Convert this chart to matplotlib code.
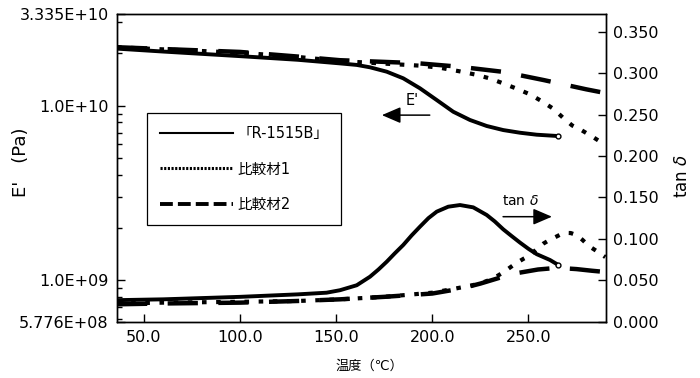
import matplotlib
matplotlib.use("Agg")
import matplotlib.pyplot as plt
from matplotlib.lines import Line2D
from matplotlib.ticker import FixedLocator, FixedFormatter, LogLocator, NullFormatter

plt.rcParams['font.family'] = ['DejaVu Sans', 'Noto Sans CJK JP']
plt.rcParams['font.size'] = 11.5

# ---------------- data ----------------
series_names = ["「R-1515B」", "比較材1", "比較材2"]

# Storage modulus E' (Pa)
t_E_r = [36, 60, 100, 130, 152, 160.7, 167.6, 176.3, 184.9, 193.6, 202.3, 210.9, 219.6, 228.3,
         236.9, 245.6, 254.3, 265.6]
E_r = [2.12e10, 2.04e10, 1.92e10, 1.83e10, 1.745e10, 1.71e10, 1.657e10, 1.564e10, 1.433e10,
       1.256e10, 1.076e10, 9.22e9, 8.27e9, 7.64e9, 7.24e9, 6.99e9, 6.81e9, 6.69e9]

t_E_1 = [36, 60, 100, 130, 152, 175, 195, 205, 214.4, 223.1, 230, 236.9, 243.9, 250.8, 256.9,
         262.9, 268.1, 272.7, 277.9, 283.6, 290]
E_1 = [2.16e10, 2.10e10, 2.01e10, 1.90e10, 1.80e10, 1.74e10, 1.69e10, 1.64e10, 1.57e10, 1.50e10,
       1.43e10, 1.34e10, 1.25e10, 1.16e10, 1.06e10, 9.6e9, 8.5e9, 7.7e9, 7.2e9, 6.6e9, 5.95e9]

t_E_2 = [36, 60, 100, 130, 152, 175, 192, 214, 237, 258, 280, 290]
E_2 = [2.16e10, 2.11e10, 2.03e10, 1.91e10, 1.82e10, 1.78e10, 1.75e10, 1.67e10, 1.56e10, 1.40e10,
       1.24e10, 1.18e10]

# tan delta
t_tan_r = [36, 60, 100, 130, 145, 152, 160.7, 167.6, 172, 176.3, 180.5, 184.9, 189.2, 193.6, 198,
           202.3, 208.3, 214.4, 221.3, 228.3, 232.5, 236.9, 241.2, 245.6, 250, 254.3, 261.2, 265.6]
tan_r = [0.026, 0.027, 0.030, 0.033, 0.035, 0.038, 0.044, 0.0543, 0.063, 0.0724, 0.0825, 0.0926,
         0.104, 0.1147, 0.125, 0.1328, 0.1388, 0.1408, 0.138, 0.1288, 0.121, 0.1115, 0.1035,
         0.0955, 0.088, 0.0815, 0.0745, 0.0684]

t_tan_1 = [36, 60, 100, 130, 152, 175, 200, 212, 221, 227, 230.5, 233.7, 236.5, 239, 242, 244.6,
           247.5, 250.8, 254, 257.6, 260.5, 263.5, 266.5, 269, 272, 275, 278, 280, 283, 286, 290]
tan_1 = [0.022, 0.023, 0.024, 0.025, 0.027, 0.030, 0.035, 0.040, 0.044, 0.048, 0.051, 0.055, 0.059,
         0.063, 0.068, 0.072, 0.076, 0.080, 0.087, 0.094, 0.098, 0.1015, 0.105, 0.1072, 0.107,
         0.1046, 0.099, 0.0946, 0.089, 0.0845, 0.078]

t_tan_2 = [36, 60, 100, 130, 152, 175, 200, 215, 225, 235, 245, 255, 265, 275, 283, 290]
tan_2 = [0.021, 0.022, 0.023, 0.025, 0.027, 0.030, 0.034, 0.040, 0.046, 0.053, 0.059, 0.063, 0.065,
         0.0635, 0.0615, 0.060]

x_ticks = [50, 100, 150, 200, 250]
x_ticklabels = ["50.0", "100.0", "150.0", "200.0", "250.0"]
E_ticks = [5.776e8, 1.0e9, 1.0e10, 3.335e10]
E_ticklabels = ["5.776E+08", "1.0E+09", "1.0E+10", "3.335E+10"]
tan_ticks = [0.0, 0.05, 0.10, 0.15, 0.20, 0.25, 0.30, 0.35]
tan_ticklabels = ["0.000", "0.050", "0.100", "0.150", "0.200", "0.250", "0.300", "0.350"]

# ---------------- figure ----------------
W, H = 700, 378
fig = plt.figure(figsize=(W / 100, H / 100), dpi=100)
L, R, T, B = 117, 605.7, 14.3, 321.7
ax = fig.add_axes([L / W, 1 - B / H, (R - L) / W, (B - T) / H])
ax2 = ax.twinx()

solid_kw = dict(color='black', lw=2.8, solid_capstyle='butt', solid_joinstyle='round')
dot_kw = dict(color='black', lw=3.0, linestyle=(0, (1.1, 2.3)), dash_capstyle='butt')
dash_kw = dict(color='black', lw=3.2, linestyle=(0, (6.8, 4.6)), dash_capstyle='butt')
end_kw = dict(marker='o', markevery=[-1], ms=3.5, mfc='white', mec='black', mew=1.0)

ax.plot(t_E_2, E_2, **dash_kw)
ax.plot(t_E_1, E_1, **dot_kw)
ax.plot(t_E_r, E_r, **solid_kw, **end_kw)

ax2.plot(t_tan_2, tan_2, **dash_kw)
ax2.plot(t_tan_1, tan_1, **dot_kw)
ax2.plot(t_tan_r, tan_r, **solid_kw, **end_kw)

ax.set_xlim(36, 290.2)
ax.set_yscale('log')
ax.set_ylim(5.776e8, 3.335e10)
ax2.set_ylim(0, 0.371)

ax.xaxis.set_major_locator(FixedLocator(x_ticks))
ax.xaxis.set_major_formatter(FixedFormatter(x_ticklabels))
ax.yaxis.set_major_locator(FixedLocator(E_ticks))
ax.yaxis.set_major_formatter(FixedFormatter(E_ticklabels))
ax.yaxis.set_minor_locator(LogLocator(base=10, subs=[2, 3, 4, 5, 6, 7, 8, 9]))
ax.yaxis.set_minor_formatter(NullFormatter())
ax2.yaxis.set_major_locator(FixedLocator(tan_ticks))
ax2.yaxis.set_major_formatter(FixedFormatter(tan_ticklabels))

ax.tick_params(axis='both', which='major', direction='in', length=6, width=1, pad=6, labelsize=11.5)
ax.tick_params(axis='y', which='minor', direction='in', length=3.5, width=1)
ax.tick_params(axis='x', which='minor', length=0)
ax2.tick_params(axis='y', which='major', direction='in', length=6, width=1, pad=5, labelsize=11.5)

for a in (ax, ax2):
    for s in a.spines.values():
        s.set_linewidth(1.0)
        s.set_color('black')

ax.set_xlabel("温度（℃）", fontsize=9.5)
ax.xaxis.set_label_coords(0.5157, -0.124)
ax.set_ylabel("E'　(Pa)", fontsize=13)
ax.yaxis.set_label_coords(-0.178, 0.52)
ax2.set_ylabel("tan $\\delta$", fontsize=12)
ax2.yaxis.set_label_coords(1.137, 0.474)

# direction arrows
ax.annotate('', xy=(0.542, 0.672), xytext=(0.640, 0.672), xycoords='axes fraction',
            arrowprops=dict(arrowstyle='-|>,head_length=1.0,head_width=0.43', color='black',
                            lw=1.1, shrinkA=0, shrinkB=0))
ax.text(0.604, 0.718, "E'", transform=ax.transAxes, ha='center', va='center', fontsize=10.5)
ax.annotate('', xy=(0.890, 0.3416), xytext=(0.790, 0.3416), xycoords='axes fraction',
            arrowprops=dict(arrowstyle='-|>,head_length=1.0,head_width=0.43', color='black',
                            lw=1.1, shrinkA=0, shrinkB=0))
ax.text(0.825, 0.393, "tan $\\delta$", transform=ax.transAxes, ha='center', va='center', fontsize=10)

# legend
handles = [
    Line2D([], [], color='black', lw=1.5),
    Line2D([], [], color='black', lw=2.2, linestyle=(0, (0.7, 0.5)), dash_capstyle='butt'),
    Line2D([], [], color='black', lw=2.8, linestyle=(0, (3.3, 1.3)), dash_capstyle='butt'),
]
leg = ax2.legend(handles, series_names, loc='upper left', bbox_to_anchor=(0.061, 0.679),
                 borderaxespad=0, frameon=True, fancybox=False, framealpha=1, edgecolor='black',
                 handlelength=5.0, handletextpad=0.3, labelspacing=1.4, borderpad=0.9,
                 fontsize=10.5)
leg.get_frame().set_linewidth(0.9)

fig.savefig("out.png", dpi=100)
